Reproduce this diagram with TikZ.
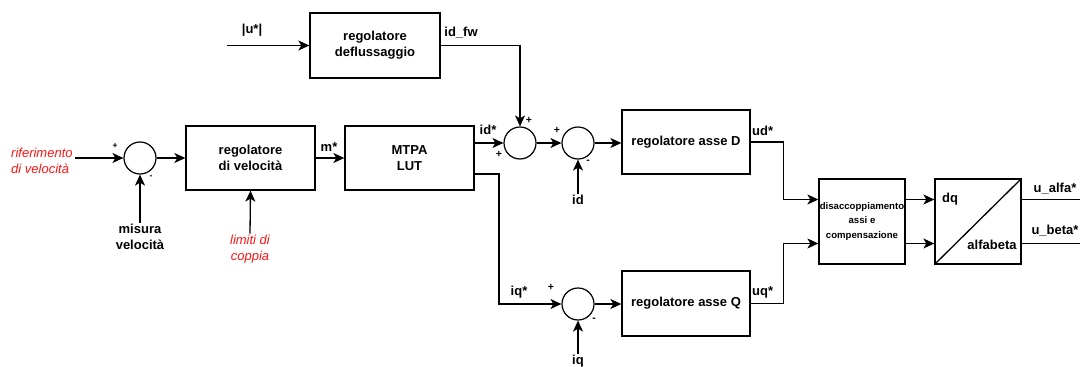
\documentclass[tikz,border=0pt]{standalone}
\usepackage{fontspec}
\setmainfont{Liberation Sans}
\usetikzlibrary{arrows.meta,calc}
\definecolor{lblred}{RGB}{255,20,20}
\tikzset{
  blk/.style={draw, line width=1.3pt, inner sep=0pt, align=center, font=\fontsize{13}{16}\selectfont\bfseries},
  sumc/.style={draw, circle, line width=1.2pt, minimum size=32pt, inner sep=0pt},
  arr/.style={line width=1.3pt, -{Stealth[length=11pt,width=10pt,inset=3pt]}},
  wire/.style={line width=1.3pt},
  lbl/.style={font=\fontsize{13}{16}\selectfont\bfseries, inner sep=1pt, align=center},
  redlbl/.style={font=\fontsize{13}{16}\selectfont\itshape, text=lblred, inner sep=1pt},
  sgn/.style={font=\fontsize{10.5}{11}\selectfont\bfseries, inner sep=0pt},
  sgnsm/.style={font=\fontsize{8.5}{9}\selectfont\bfseries, inner sep=0pt},
}
\begin{document}
\begin{tikzpicture}[x=1pt,y=-1pt]
\useasboundingbox (0,0) rectangle (1080,367);

% blocks
\node[blk, minimum width=130pt, minimum height=65pt] (defl) at (375,45.5) {regolatore\\deflussaggio};
\node[blk, minimum width=129pt, minimum height=64pt] (spd) at (250.5,158) {regolatore\\di velocità};
\node[blk, minimum width=129pt, minimum height=64pt] (mtpa) at (409.5,158) {MTPA\\LUT};
\node[blk, minimum width=128pt, minimum height=64pt] (regd) at (686,142) {regolatore asse D};
\node[blk, minimum width=128pt, minimum height=65pt] (regq) at (686,303.5) {regolatore asse Q};
\node[blk, minimum width=86pt, minimum height=85pt, font=\fontsize{9.6}{14.5}\selectfont\bfseries] (dec) at (862,221.5) {disaccoppiamento\\assi e\\compensazione};
\node[blk, minimum width=86pt, minimum height=85pt] (dq) at (978,221.5) {};
\draw[wire] (dq.south west) -- (dq.north east);
\node[lbl, anchor=west] (dqt) at (941,199) {dq};
\node[lbl] (abt) at (992,245) {alfabeta};

% summing junctions
\node[sumc] (s1) at (140,158) {};
\node[sumc] (c1) at (520,143) {};
\node[sumc] (c2) at (578,143) {};
\node[sumc] (c3) at (578,304) {};

% external inputs
\coordinate (uin) at (227,45.5);
\coordinate (win) at (75,158);
\node[lbl] (ul) at (252,30) {|u*|};
\node[redlbl, anchor=west, align=left] (ref) at (10,160.5) {riferimento\\di velocità};
\node[lbl] (mis) at (140,237) {misura\\velocità};
\node[redlbl, align=center] (lim) at (250,249) {limiti di\\coppia};
\node[lbl] (idl) at (578,200) {id};
\node[lbl] (iql) at (578,361) {iq};

% signal labels
\node[lbl] at (461,33) {id\_fw};
\node[lbl] at (329,147) {m*};
\node[lbl] at (488,130) {id*};
\node[lbl] at (519,292) {iq*};
\node[lbl, anchor=west] at (751,131) {ud*};
\node[lbl, anchor=west] at (751,292) {uq*};
\node[lbl] at (1055,189) {u\_alfa*};
\node[lbl] at (1055,231) {u\_beta*};

% signs
\node[sgnsm] at (115,146) {+};
\node[sgnsm] at (151,177) {-};
\node[sgn] at (529,120) {+};
\node[sgn] at (499,154) {+};
\node[sgn] at (557,130) {+};
\node[sgn] at (588,162) {-};
\node[sgn] at (551,287) {+};
\node[sgn] at (594,320) {-};

% speed loop
\draw[arr] (uin) -- (defl.west);
\draw[arr] (win) -- (s1.west);
\draw[arr] (s1.east) -- (spd.west);
\draw[arr] (mis.north) -- (s1.south);
\draw[arr] (lim.north) -- (spd.south);
\draw[arr] (spd.east) -- (mtpa.west);

% d axis
\draw[arr] (mtpa.east |- c1.west) -- (c1.west);
\draw[arr] (defl.east) -| (c1.north);
\draw[arr] (c1.east) -- (c2.west);
\draw[arr] (idl.north) -- (c2.south);
\draw[arr] (c2.east) -- (regd.west |- c2.east);

% q axis
\draw[arr] ([yshift=-16pt]mtpa.east) -| (499,304) -- (c3.west);
\draw[arr] (iql.north) -- (c3.south);
\draw[arr] (c3.east) -- (regq.west |- c3.east);

% decoupling and transformation
\draw[arr] (regd.east) -- ++(33,0) |- ([yshift=22pt]dec.west);
\draw[arr] (regq.east) -- ++(33,0) |- ([yshift=-22pt]dec.west);
\draw[arr] ([yshift=22pt]dec.east) -- ([yshift=22pt]dq.west);
\draw[arr] ([yshift=-22pt]dec.east) -- ([yshift=-22pt]dq.west);
\coordinate (oa) at (1080,199.5);
\coordinate (ob) at (1080,243.5);
\draw[wire] ([yshift=22pt]dq.east) -- (oa);
\draw[wire] ([yshift=-22pt]dq.east) -- (ob);
\end{tikzpicture}
\end{document}
